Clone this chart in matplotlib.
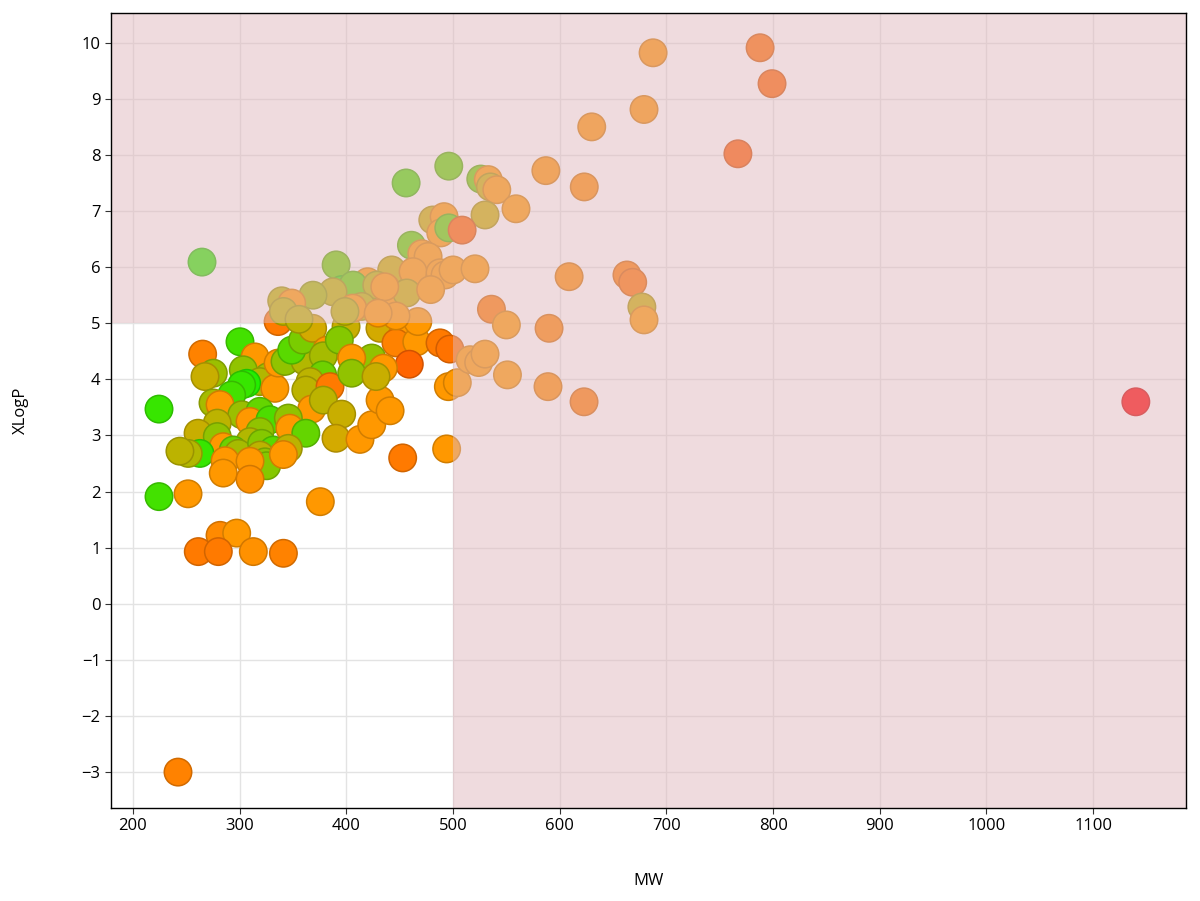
import numpy as np
import matplotlib
matplotlib.use("Agg")
import matplotlib.pyplot as plt
from matplotlib.colors import LinearSegmentedColormap, Normalize
from matplotlib.patches import Rectangle

# (MW, XLogP, colour score 0=green, 1=orange, 2=red)
points = [
    (300.3, 4.67, 0.15), (265.3, 4.45, 1.15), (314.4, 4.40, 1.0), (275.3, 4.11, 0.55),
    (267.5, 4.05, 0.75), (303.4, 4.17, 0.5), (326.8, 4.05, 0.6), (319.0, 3.96, 0.65),
    (306.6, 3.93, 0.0), (301.9, 3.90, 0.1), (333.0, 3.84, 1.0), (292.5, 3.72, 0.15),
    (336.0, 5.03, 1.2), (336.0, 4.29, 1.0), (342.5, 4.32, 0.5), (361.3, 4.32, 0.65),
    (275.0, 3.58, 0.6), (281.6, 3.55, 1.0), (302.0, 3.37, 0.55), (319.0, 3.43, 0.3),
    (309.7, 3.25, 1.0), (328.4, 3.28, 0.2), (279.0, 3.22, 0.7), (261.0, 3.04, 0.75),
    (279.0, 2.98, 0.5), (319.0, 3.07, 0.5), (309.7, 2.89, 0.65), (284.6, 2.80, 1.0),
    (294.0, 2.74, 0.35), (298.7, 2.68, 0.6), (320.6, 2.86, 0.45), (331.5, 2.74, 0.25),
    (262.8, 2.68, 0.1), (251.8, 2.68, 0.65), (244.0, 2.72, 0.7), (319.0, 2.65, 0.7),
    (323.7, 2.53, 0.5), (325.3, 2.46, 0.45), (286.3, 2.55, 1.0), (284.6, 2.33, 1.0),
    (309.7, 2.54, 1.0), (309.7, 2.22, 1.05), (251.6, 1.96, 1.0), (224.4, 3.47, 0.1),
    (224.4, 1.91, 0.15), (281.6, 1.22, 1.1), (297.2, 1.26, 1.0), (261.2, 0.93, 1.2),
    (280.0, 0.93, 1.2), (312.8, 0.93, 1.05), (341.0, 0.90, 1.15), (375.6, 1.82, 1.0),
    (242.2, -3.00, 1.15), (348.8, 4.52, 0.25), (359.0, 4.70, 0.4), (368.4, 4.91, 0.8),
    (381.6, 4.52, 1.0), (378.4, 4.42, 0.6), (377.8, 4.08, 0.35), (366.0, 3.96, 0.7),
    (362.0, 3.81, 0.7), (384.7, 3.87, 1.2), (367.5, 3.47, 1.0), (378.4, 3.63, 0.7),
    (345.6, 3.31, 0.5), (347.0, 3.13, 1.0), (362.0, 3.04, 0.3), (345.6, 2.77, 0.7),
    (341.0, 2.66, 1.0), (395.6, 3.38, 0.75), (390.3, 2.95, 0.8), (412.8, 2.93, 1.0),
    (423.8, 3.19, 1.0), (431.6, 3.63, 1.0), (441.0, 3.44, 1.0), (452.8, 2.60, 1.2),
    (494.0, 2.76, 1.0), (399.7, 4.94, 0.75), (431.5, 4.91, 0.8), (393.4, 4.70, 0.45),
    (451.8, 4.76, 1.0), (446.5, 4.65, 1.15), (466.0, 4.67, 1.0), (467.0, 5.03, 1.0),
    (487.8, 4.65, 1.2), (497.0, 4.54, 1.25), (459.0, 4.27, 1.35), (423.8, 4.38, 0.5),
    (434.7, 4.20, 1.0), (405.0, 4.38, 1.0), (405.0, 4.11, 0.5), (427.8, 4.05, 0.75),
    (495.6, 3.87, 1.0), (504.0, 3.94, 1.0),
    (264.7, 6.09, 0.05), (456.0, 7.50, 0.2), (496.0, 7.80, 0.3), (526.0, 7.57, 0.35),
    (533.0, 7.56, 1.0), (535.0, 7.43, 0.75), (541.0, 7.38, 1.0), (530.0, 6.93, 0.75),
    (559.0, 7.04, 1.0), (587.0, 7.72, 1.05), (623.0, 7.43, 1.1), (630.0, 8.50, 1.05),
    (679.0, 8.81, 1.05), (687.5, 9.82, 1.05), (787.8, 9.91, 1.3), (799.0, 9.27, 1.35),
    (767.0, 8.02, 1.4), (481.0, 6.84, 0.75), (491.6, 6.90, 1.0), (488.5, 6.61, 1.0),
    (496.0, 6.70, 0.3), (508.5, 6.66, 1.35), (461.0, 6.39, 0.3), (470.7, 6.24, 1.0),
    (476.6, 6.19, 1.0), (442.5, 5.95, 0.75), (462.5, 5.92, 1.0), (487.8, 5.90, 1.0),
    (492.5, 5.86, 1.0), (500.0, 5.95, 1.0), (520.6, 5.97, 1.0), (437.0, 5.63, 1.0),
    (438.0, 5.48, 1.0), (456.6, 5.54, 0.75), (479.0, 5.60, 1.0), (536.0, 5.25, 1.2),
    (550.0, 4.97, 1.0), (446.5, 5.13, 1.0), (608.8, 5.83, 1.1), (663.0, 5.86, 1.2),
    (668.4, 5.73, 1.25), (677.0, 5.29, 0.75), (679.0, 5.06, 1.0), (590.0, 4.91, 1.15),
    (551.0, 4.08, 1.0), (589.0, 3.87, 1.1), (622.8, 3.60, 1.2), (516.0, 4.35, 1.0),
    (524.0, 4.30, 1.0), (530.0, 4.45, 1.0), (1140.0, 3.60, 2.0), (390.4, 6.04, 0.35),
    (420.0, 5.74, 1.0), (395.6, 5.60, 0.1), (406.3, 5.68, 0.3), (387.5, 5.56, 0.7),
    (428.5, 5.68, 0.7), (436.0, 5.65, 1.0), (414.4, 5.30, 0.7), (406.0, 5.27, 1.0),
    (398.7, 5.21, 0.7), (429.8, 5.18, 1.0), (368.7, 5.50, 0.6), (339.4, 5.40, 0.7),
    (348.8, 5.36, 1.0), (341.0, 5.21, 0.7), (355.6, 5.07, 0.7),
]
mw = np.array([p[0] for p in points])
xlogp = np.array([p[1] for p in points])
score = np.array([p[2] for p in points])

xticks = list(range(200, 1101, 100))
yticks = list(range(-3, 11))

cmap = LinearSegmentedColormap.from_list("gor", ["#22ee00", "#ff9900", "#ff0000"])
face = cmap(Normalize(0, 2)(score))
edge = face.copy()
edge[:, :3] *= 0.82

plt.rcParams['font.family'] = ['Open Sans', 'DejaVu Sans']
fig = plt.figure(figsize=(12, 9.01), dpi=100)
ax = fig.add_axes([0.0925, 0.1032, 0.896, 0.8824])

ax.scatter(mw, xlogp, s=390, c=face, edgecolors=edge, linewidths=1.1, zorder=3)

x0, x1 = 179.4, 1187.2
y0, y1 = -3.64, 10.53
ax.set_xlim(x0, x1)
ax.set_ylim(y0, y1)

# shaded rule-of-five violation zone, drawn over the points
shade = dict(facecolor=(225/255, 185/255, 190/255), alpha=0.5, edgecolor='none', zorder=4)
ax.add_patch(Rectangle((x0, 5), 500 - x0, y1 - 5, **shade))
ax.add_patch(Rectangle((500, y0), x1 - 500, y1 - y0, **shade))

ax.set_xticks(xticks)
ax.set_yticks(yticks)
ax.grid(True, color='#e3e3e3', linewidth=1.0, zorder=0)
ax.set_axisbelow(True)
ax.tick_params(labelsize=12, length=4, color='#333333')
for sp in ax.spines.values():
    sp.set_linewidth(1.0)
    sp.set_zorder(5)

ax.set_xlabel("MW", fontsize=12, labelpad=28)
ax.set_ylabel("XLogP", fontsize=12, labelpad=38)

fig.savefig("out.png", dpi=100)
